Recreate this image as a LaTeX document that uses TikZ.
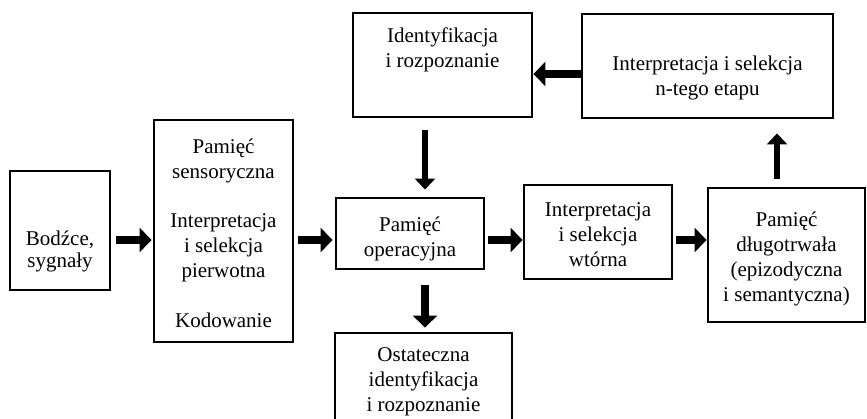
\documentclass[tikz,border=0pt]{standalone}
\usepackage{fontspec}
\setmainfont{Liberation Serif}
\usetikzlibrary{arrows.meta}
\begin{document}
\begin{tikzpicture}[x=1pt,y=-1pt,
  box/.style={draw,line width=2.9pt,inner sep=0pt},
  txt/.style={inner sep=0pt,align=center,font=\fontsize{21}{25}\selectfont},
  bigarrow/.style={line width=7.5pt,-{Triangle[width=24pt,length=12pt]}},
  thinarrow/.style={line width=5.5pt,-{Triangle[width=20pt,length=11pt]}}]
\fill[white] (0,0) rectangle (867,419);
\useasboundingbox (0,0) rectangle (867,419);
% boxes
\node[box,minimum width=100pt,minimum height=119pt] (bod) at (60,230.5) {};
\node[txt,font=\fontsize{21}{22}\selectfont] (bodT) at (60,251) {Bodźce,\\sygnały};
\node[box,minimum width=139pt,minimum height=222pt] (sens) at (223.5,231) {};
\node[txt] (sensT) at (223.5,233.5)
  {Pamięć\\sensoryczna\\[24pt]Interpretacja\\i selekcja\\pierwotna\\[25pt]Kodowanie};
\node[box,minimum width=179pt,minimum height=104pt] (ident) at (442.5,65) {};
\node[txt] (identT) at (442.5,50) {Identyfikacja\\i rozpoznanie};
\node[box,minimum width=251pt,minimum height=104pt] (nteg) at (707.5,66) {};
\node[txt] (ntegT) at (707.5,77.5) {Interpretacja i selekcja\\n-tego etapu};
\node[box,minimum width=148pt,minimum height=71pt] (oper) at (410,233.5) {};
\node[txt] (operT) at (410,238.5) {Pamięć\\operacyjna};
\node[box,minimum width=148pt,minimum height=94pt] (wtor) at (598,232) {};
\node[txt] (wtorT) at (598,235) {Interpretacja\\i selekcja\\wtórna};
\node[box,minimum width=157pt,minimum height=134pt] (dlug) at (786.5,255) {};
\node[txt] (dlugT) at (786.5,259) {Pamięć\\długotrwała\\(epizodyczna\\i semantyczna)};
\node[box,minimum width=177pt,minimum height=112pt] (ost) at (423.5,389) {};
\node[txt] (ostT) at (423.5,382) {Ostateczna\\identyfikacja\\i rozpoznanie};
% helper levels
\coordinate (hy) at (0,240);
\coordinate (ty) at (0,74);
\coordinate (vx) at (425,0);
\coordinate (ux) at (777,0);
% connectors
\draw[bigarrow,shorten <=5pt,shorten >=1pt] (bod.east |- hy) -- (sens.west |- hy);
\draw[bigarrow,shorten <=4pt,shorten >=2pt] (sens.east |- hy) -- (oper.west |- hy);
\draw[bigarrow,shorten <=3pt] (oper.east |- hy) -- (wtor.west |- hy);
\draw[bigarrow,shorten <=3pt] (wtor.east |- hy) -- (dlug.west |- hy);
\draw[bigarrow] (nteg.west |- ty) -- (ident.east |- ty);
\draw[thinarrow,shorten <=12pt,shorten >=7pt] (vx |- ident.south) -- (vx |- oper.north);
\draw[bigarrow,shorten <=15pt,shorten >=4pt] (vx |- oper.south) -- (vx |- ost.north);
\draw[thinarrow,shorten <=8pt,shorten >=14pt] (ux |- dlug.north) -- (ux |- nteg.south);
\end{tikzpicture}
\end{document}
